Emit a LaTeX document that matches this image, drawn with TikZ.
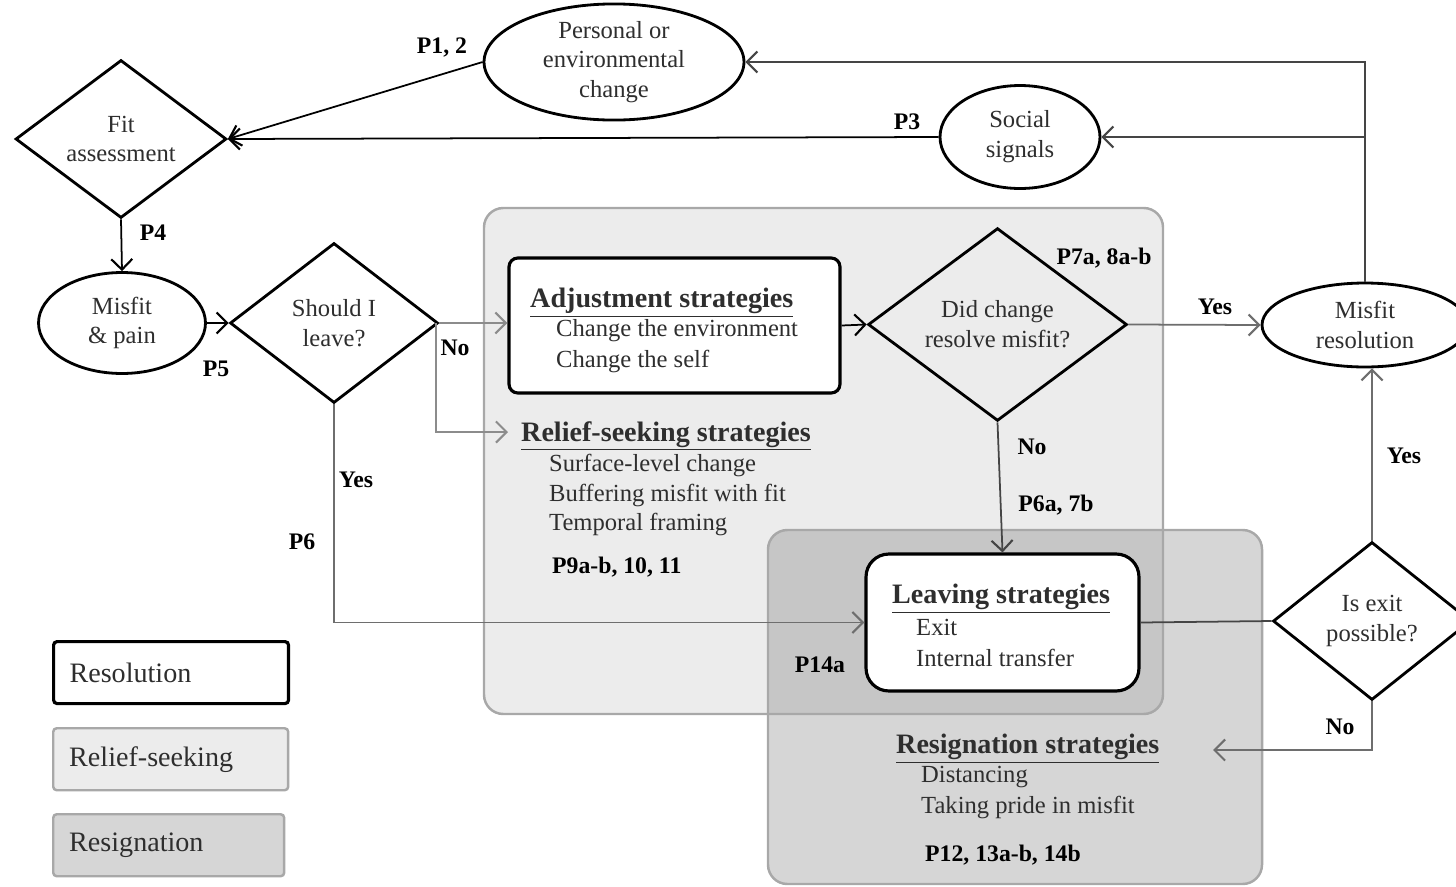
\documentclass[tikz,border=0pt]{standalone}
\usepackage{fontspec}
\setmainfont{Liberation Serif}
\usetikzlibrary{shapes.geometric,arrows.meta}
\definecolor{txt}{HTML}{2E2E2E}
\definecolor{lightreg}{HTML}{ECECEC}
\definecolor{regborder}{HTML}{A8A8A8}
\definecolor{conngray}{HTML}{6E6E6E}
\definecolor{connlight}{HTML}{8C8C8C}
\definecolor{conndark}{HTML}{454545}
\newcommand{\ulhead}[1]{\underline{#1}}
\begin{document}
\begin{tikzpicture}[x=0.02cm, y=-0.02cm,
  every node/.style={text=txt, font=\fontsize{14}{17}\selectfont},
  term/.style={ellipse, draw=black, line width=1.6pt, fill=white, inner sep=0pt, align=center},
  decide/.style={diamond, draw=black, line width=1.6pt, inner sep=0pt, aspect=1, align=center},
  stratbox/.style={draw=black, line width=1.8pt, fill=white},
  conn/.style={line width=1pt, draw=black, -{Straight Barb[length=6pt,width=12pt,line width=1.2pt]}},
  lab/.style={font=\bfseries\fontsize{13.5}{16}\selectfont, text=black},
  head/.style={font=\bfseries\fontsize{16}{19}\selectfont, anchor=west},
  item/.style={anchor=west},
  legbox/.style={minimum width=4.7cm, minimum height=1.24cm, text width=4.06cm, inner xsep=0.32cm, align=left, anchor=north west, font=\fontsize{16}{19}\selectfont, rounded corners=2pt, line width=1.4pt}
]
\clip (0,0) rectangle (1456,886);
\fill[white] (0,0) rectangle (1456,886);

% regions
\fill[lightreg, rounded corners=11pt] (484,208) rectangle (1163,714);
\fill[black, fill opacity=0.16, rounded corners=11pt] (768,530) rectangle (1262,884);
\draw[regborder, line width=1.4pt, rounded corners=11pt] (484,208) rectangle (1163,714);
\draw[regborder, line width=1.4pt, rounded corners=11pt] (768,530) rectangle (1262,884);

% nodes
\node[decide, minimum width=4.22cm, minimum height=3.16cm, fill=white] (fit) at (121,139) {Fit\\assessment};
\node[term, minimum width=5.2cm, minimum height=1.96cm] (pec) at (614,62) {Personal or\\environmental\\change};
\node[term, minimum width=3.2cm, minimum height=2.06cm] (soc) at (1020,137) {Social\\signals};
\node[term, minimum width=3.34cm, minimum height=2.02cm] (mp) at (122,323) {Misfit\\\& pain};
\node[decide, minimum width=4.16cm, minimum height=3.2cm, fill=white] (sl) at (334,323) {Should I\\leave?};
\node[stratbox, rounded corners=5pt, minimum width=6.62cm, minimum height=2.7cm] (adj) at (674.5,325.5) {};
\node[decide, minimum width=5.18cm, minimum height=3.66cm] (dc) at (997.5,324.5) {Did change\\resolve misfit?};
\node[term, minimum width=4.12cm, minimum height=1.68cm] (mres) at (1365,325) {Misfit\\resolution};
\node[stratbox, rounded corners=13pt, minimum width=5.46cm, minimum height=2.74cm] (leave) at (1002.5,622.5) {};
\node[decide, minimum width=3.96cm, minimum height=3.16cm, fill=white] (ie) at (1372,621) {Is exit\\possible?};

% strategy texts
\node[head] (adjh) at (524,303) {\ulhead{Adjustment strategies}};
\node[item] (adj1) at (550,331) {Change the environment};
\node[item] (adj2) at (550,361) {Change the self};

\node[head] (relh) at (515,436) {\ulhead{Relief-seeking strategies}};
\node[item] (rel1) at (543,465) {Surface-level change};
\node[item] (rel2) at (543,495) {Buffering misfit with fit};
\node[item] (rel3) at (543,524) {Temporal framing};
\node[lab, anchor=west] (relp) at (546,567) {P9a-b, 10, 11};

\node[head] (leaveh) at (886,599) {\ulhead{Leaving strategies}};
\node[item] (leave1) at (910,627) {Exit};
\node[item] (leave2) at (910,658) {Internal transfer};

\node[head] (resh) at (890,749) {\ulhead{Resignation strategies}};
\node[item] (res1) at (915,777) {Distancing};
\node[item] (res2) at (915,807) {Taking pride in misfit};
\node[lab, anchor=west] (resp) at (919,855) {P12, 13a-b, 14b};

% coordinates for free ends
\coordinate (relin) at (508,432);
\coordinate (resin) at (1213,750);

% connectors
\draw[conn] (pec.west) -- (fit.east);
\draw[conn] (soc.west) -- (fit.east);
\draw[conn, draw=conndark] (mres.north) |- (pec.east);
\draw[conn, draw=conndark] (mres.north |- soc.east) -- (soc.east);
\draw[conn] (fit.south) -- (mp.north);
\draw[conn] (mp.east) -- (sl.west);
\draw[conn, draw=connlight] (sl.east) -- (sl.east -| adj.west);
\draw[conn, draw=connlight] ([xshift=-2]sl.east) |- (relin);
\draw[conn, draw=conngray] (sl.south) |- (leave.west);
\draw[conn] (adj.east) -- (dc.west);
\draw[conn, draw=conngray] (dc.east) -- (mres.west);
\draw[conn, draw=conndark] (dc.south) -- (leave.north);
\draw[line width=1pt, draw=conndark] (leave.east) -- (ie.west);
\draw[conn, draw=conngray] (ie.north) -- (ie.north |- mres.south);
\draw[conn, draw=conngray] (ie.south) |- (resin);

% labels
\node[lab] (l1) at (442,47) {P1, 2};
\node[lab] (l3) at (907,122) {P3};
\node[lab] (l4) at (153,233) {P4};
\node[lab] (l5) at (216,369) {P5};
\node[lab] (lno1) at (455,348) {No};
\node[lab] (lyes1) at (356,480) {Yes};
\node[lab] (l6) at (302,542) {P6};
\node[lab] (l7) at (1104,258) {P7a, 8a-b};
\node[lab] (lyes2) at (1215,307) {Yes};
\node[lab] (lno2) at (1032,447) {No};
\node[lab] (l6a) at (1056,505) {P6a, 7b};
\node[lab] (lyes3) at (1404,456) {Yes};
\node[lab] (l14) at (820,665) {P14a};
\node[lab] (lno3) at (1340,727) {No};

% legend
\node[legbox, draw=black, line width=1.8pt, fill=white] (legres) at (52,640) {Resolution};
\node[legbox, draw=regborder, fill=lightreg] (legrel) at (52,727) {Relief-seeking};
\node[legbox, draw=regborder, fill=black!16, minimum width=4.62cm, text width=3.98cm] (legresig) at (52,813) {Resignation};
\end{tikzpicture}
\end{document}
